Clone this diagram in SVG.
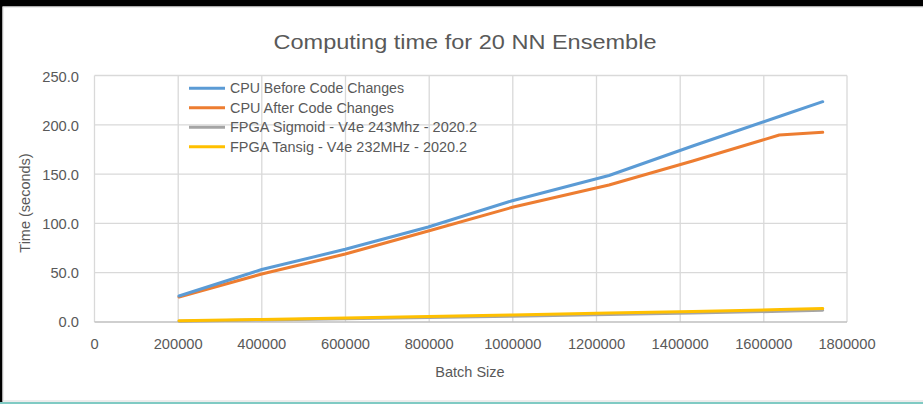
<svg xmlns="http://www.w3.org/2000/svg" width="923" height="404" viewBox="0 0 923 404">
<style>
.t{font-family:"Liberation Sans",Arial,sans-serif;fill:#595959}
.tick{font-size:14.7px}
.leg{font-size:14px}
.grid{stroke:#D9D9D9;stroke-width:1.3;fill:none}
.s{fill:none;stroke-width:3;stroke-linejoin:round;stroke-linecap:round}
</style>
<rect x="0" y="0" width="923" height="404" fill="#ffffff"/>
<rect x="0" y="0" width="923" height="6.5" fill="#000000"/>
<rect x="0" y="0" width="2.5" height="404" fill="#000000"/>
<rect x="3" y="7" width="930" height="394" fill="none" stroke="#D9D9D9" stroke-width="1"/>
<rect x="0" y="402" width="923" height="2" fill="#7FCAC3"/>

<g id="title"><text class="t" x="465" y="49" font-size="20.5" text-anchor="middle" textLength="383" lengthAdjust="spacingAndGlyphs">Computing time for 20 NN Ensemble</text></g>

<g id="gridlines">
<path class="grid" d="M94.5 75.5H847 M94.5 124.8H847 M94.5 174.1H847 M94.5 223.4H847 M94.5 272.7H847"/>
<path class="grid" d="M94.5 75.5V322 M178.2 75.5V322 M261.8 75.5V322 M345.5 75.5V322 M429.2 75.5V322 M512.8 75.5V322 M596.5 75.5V322 M680.2 75.5V322 M763.8 75.5V322 M847 75.5V322"/>
<path d="M94.5 322H847" stroke="#BFBFBF" stroke-width="1.3"/>
</g>

<g id="y-axis" class="t tick" text-anchor="end">
<text x="79" y="82">250.0</text>
<text x="79" y="131">200.0</text>
<text x="79" y="180">150.0</text>
<text x="79" y="229">100.0</text>
<text x="79" y="278">50.0</text>
<text x="79" y="327">0.0</text>
</g>
<g id="x-axis" class="t tick" text-anchor="middle">
<text x="94.5" y="348.5">0</text>
<text x="178.2" y="348.5">200000</text>
<text x="261.8" y="348.5">400000</text>
<text x="345.5" y="348.5">600000</text>
<text x="429.2" y="348.5">800000</text>
<text x="512.8" y="348.5">1000000</text>
<text x="596.5" y="348.5">1200000</text>
<text x="680.2" y="348.5">1400000</text>
<text x="763.8" y="348.5">1600000</text>
<text x="847" y="348.5">1800000</text>
</g>
<g id="axis-titles">
<text class="t" x="470" y="377" font-size="14.5" text-anchor="middle">Batch Size</text>
<text class="t" x="0" y="0" font-size="14.5" text-anchor="middle" transform="translate(30 203) rotate(-90)">Time (seconds)</text>
</g>

<g id="series">
<polyline id="fpga-sigmoid" class="s" stroke="#A5A5A5" points="179,321.2 261.7,320 345.3,318.8 428.3,317.5 512.3,316.2 609,314.5 692.7,313 780.6,311.3 822.7,310.3"/>
<polyline id="fpga-tansig" class="s" stroke="#FFC000" points="179,320.8 261.7,319.4 345.3,318 428.3,316.5 512.3,315 609,313 692.7,311.5 780.6,309.6 822.7,308.6"/>
<polyline id="cpu-after" class="s" stroke="#ED7D31" points="179,297 261.7,274 345.3,254 428.3,231 512.3,207.3 609,185 692.7,161 779.3,135 822.7,132.3"/>
<polyline id="cpu-before" class="s" stroke="#5B9BD5" points="179,296 261.7,269.5 345.3,249.3 428.3,227 512.3,200.7 609,175.5 692.7,146 780.6,116 822.7,101.7"/>
</g>

<g id="legend">
<line x1="189" y1="88.3" x2="225" y2="88.3" stroke="#5B9BD5" stroke-width="3"/>
<line x1="189" y1="107.8" x2="225" y2="107.8" stroke="#ED7D31" stroke-width="3"/>
<line x1="189" y1="127.3" x2="225" y2="127.3" stroke="#A5A5A5" stroke-width="3"/>
<line x1="189" y1="146.8" x2="225" y2="146.8" stroke="#FFC000" stroke-width="3"/>
<text class="t leg" x="230" y="93.3" textLength="174" lengthAdjust="spacingAndGlyphs">CPU Before Code Changes</text>
<text class="t leg" x="230" y="112.8" textLength="164" lengthAdjust="spacingAndGlyphs">CPU After Code Changes</text>
<text class="t leg" x="230" y="132.3" textLength="247" lengthAdjust="spacingAndGlyphs">FPGA Sigmoid - V4e 243Mhz - 2020.2</text>
<text class="t leg" x="230" y="151.8" textLength="237" lengthAdjust="spacingAndGlyphs">FPGA Tansig - V4e 232MHz - 2020.2</text>
</g>
</svg>
